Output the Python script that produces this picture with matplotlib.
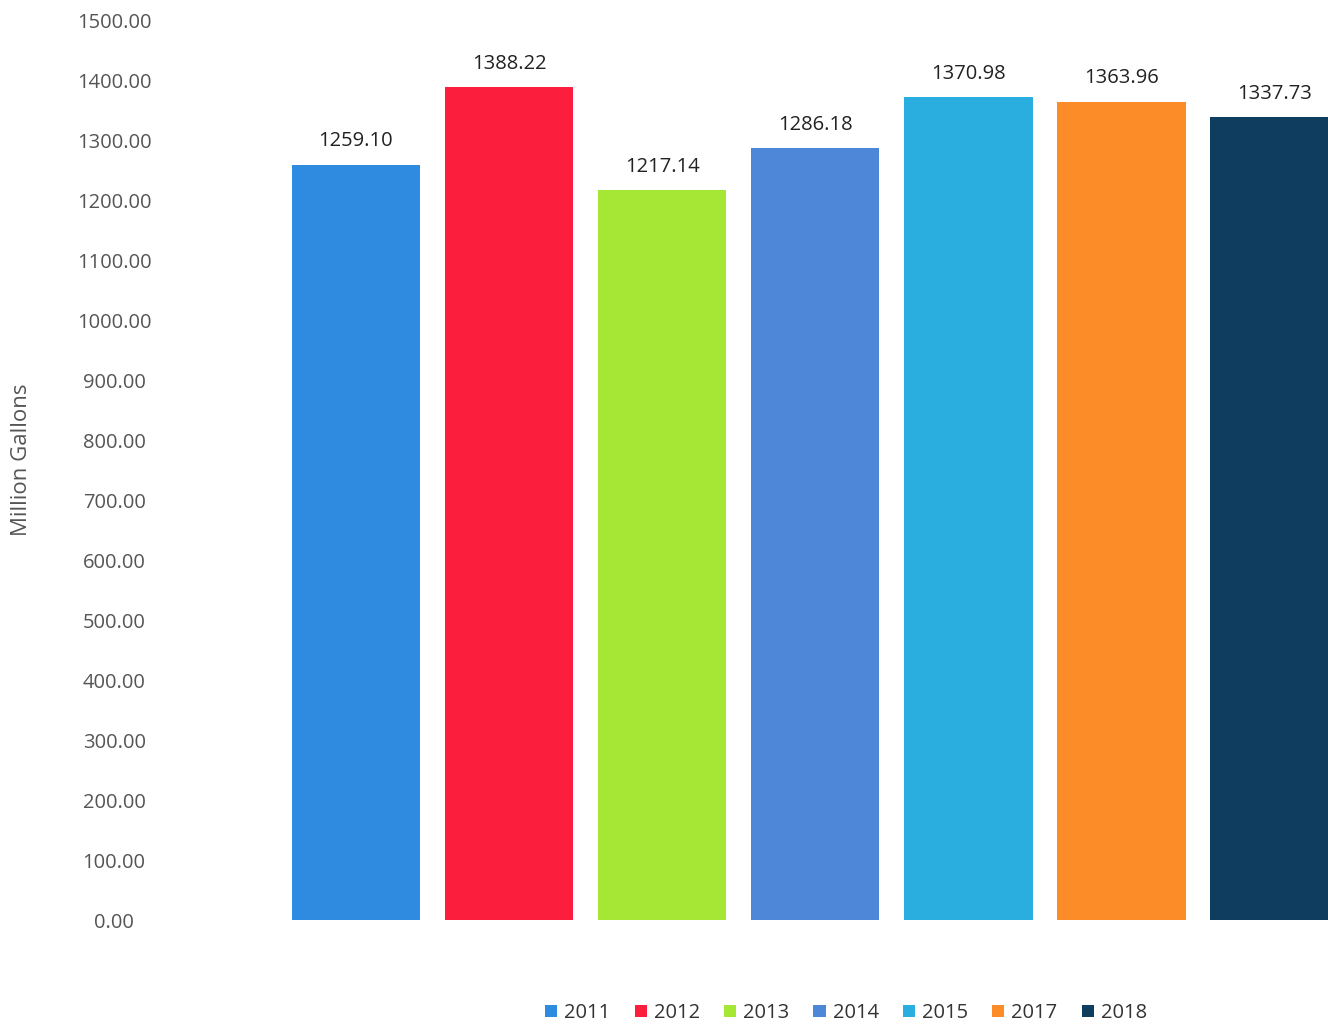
import numpy as np
import matplotlib.pyplot as plt

# Datos
years = ['2011', '2012', '2013', '2014', '2015', '2017', '2018']
gallons = [1259.10, 1388.22, 1217.14, 1286.18, 1370.98, 1363.96, 1337.73]
colors = ['#2f8be0', '#fb1f3d', '#a6e635', '#4f87d8', '#2aaee0', '#fb8c28', '#0e3d60']
yticks = np.arange(0, 1501, 100)

plt.rcParams['font.family'] = ['Open Sans', 'DejaVu Sans']

fig = plt.figure(figsize=(13.28, 10.29), dpi=100)
ax = fig.add_axes([160 / 1328, 109 / 1029, 1 - 160 / 1328, 900 / 1029])

x = np.arange(len(years))
bars = ax.bar(x, gallons, width=0.84, color=colors, label=years)

for xi, v in zip(x, gallons):
    ax.text(xi, v + 22, f'{v:.2f}', ha='center', va='bottom', fontsize=14.5, color='#222222')

ax.set_xlim(-1.28, 6.35)
ax.set_ylim(0, 1500)
ax.set_yticks(yticks)
ax.set_yticklabels([f'{t:.2f}' for t in yticks], fontsize=14.5, color='#555555', ha='center')
ax.set_xticks([])
ax.tick_params(axis='y', length=0, pad=33)
for s in ax.spines.values():
    s.set_visible(False)

fig.text(22 / 1328, 1 - 460 / 1029, 'Million Gallons', rotation=90, ha='center', va='center',
         fontsize=16, color='#555555')

fig.legend(bars, years, loc='center', bbox_to_anchor=(846 / 1328, 1 - 1013 / 1029), ncol=7,
           frameon=False, fontsize=14.5, handlelength=0.6, handleheight=0.6, handletextpad=0.35,
           columnspacing=1.2, labelcolor='#333333')

fig.savefig('out.png', dpi=100)
